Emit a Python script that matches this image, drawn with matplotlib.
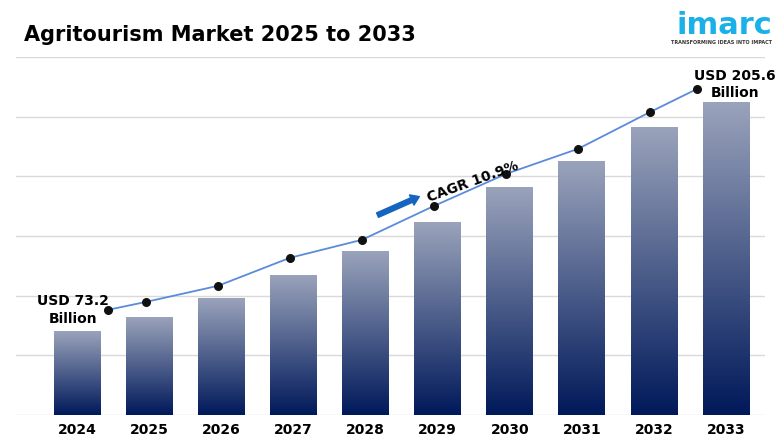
import matplotlib
matplotlib.use("Agg")
import matplotlib.pyplot as plt
import numpy as np
from matplotlib.colors import LinearSegmentedColormap

years = ["2024", "2025", "2026", "2027", "2028", "2029", "2030", "2031", "2032", "2033"]
bar_values = [73.2, 81.3, 92.3, 105.5, 119.4, 136.2, 156.4, 171.4, 191.1, 205.6]
line_values = [85.9, 90.5, 99.8, 116.0, 126.4, 146.0, 164.5, 179.0, 200.3, 213.6]
start_label = "USD 73.2\nBillion"
end_label = "USD 205.6\nBillion"
cagr_label = "CAGR 10.9%"
title = "Agritourism Market 2025 to 2033"

W, H = 780, 440
fig = plt.figure(figsize=(7.8, 4.4), dpi=100)
ax = fig.add_axes([16 / W, 25 / H, 749 / W, 358 / H])
ymin, ymax = 25.2, 232.0
for s in ax.spines.values():
    s.set_visible(False)
ax.set_yticks([])
step = (ymax - ymin) / 6
for k in range(7):
    ax.axhline(ymin + k * step, color="#d9d9d9", lw=1, zorder=0)

cmap = LinearSegmentedColormap.from_list("g", ["#00195a", "#9aa3bb"])
grad = np.linspace(0, 1, 256).reshape(-1, 1)
bw = 0.65
x = np.arange(len(years))
for i, v in enumerate(bar_values):
    ax.imshow(grad, extent=[i - bw / 2, i + bw / 2, ymin, v], origin="lower",
              cmap=cmap, aspect="auto", zorder=1)
ax.set_aspect("auto")
ax.set_xlim(-0.85, 9.54)
ax.set_ylim(ymin, ymax)

lx = (x - 0.05).astype(float)
lx[0] = 0.42
lx[-1] = 8.6
ax.plot(lx, line_values, color="#5b8bd9", lw=1.3, zorder=3)
ax.scatter(lx, line_values, color="#111111", s=30, zorder=4)

ax.set_xticks(x)
ax.set_xticklabels(years, fontsize=10, fontweight="bold")
ax.tick_params(axis="x", length=0, pad=6)

ax.text(-0.06, line_values[0], start_label, ha="center", va="center", fontsize=10,
        fontweight="bold", linespacing=1.3, zorder=5)
ax.text(9.12, 216, end_label, ha="center", va="center", fontsize=10,
        fontweight="bold", linespacing=1.3, zorder=5)
ax.annotate("", xy=(4.78, 152), xytext=(4.13, 140),
            arrowprops=dict(arrowstyle="simple,head_width=0.8,head_length=0.6,tail_width=0.35",
                            color="#1565c0"), zorder=5)
ax.text(4.83, 160, cagr_label, fontsize=10, fontweight="bold", rotation=20,
        ha="left", va="center", zorder=5)

fig.text(24 / W, 1 - 35 / H, title, fontsize=15, fontweight="bold", va="center", ha="left")
fig.text(1 - 8 / W, 1 - 26 / H, "imarc", fontsize=22, color="#1ab0e8", ha="right",
         va="center", fontweight="bold")
fig.text(1 - 8 / W, 1 - 43 / H, "TRANSFORMING IDEAS INTO IMPACT", fontsize=3.5,
         color="#333333", ha="right", va="center", fontweight="bold")

fig.savefig("out.png", dpi=100)
